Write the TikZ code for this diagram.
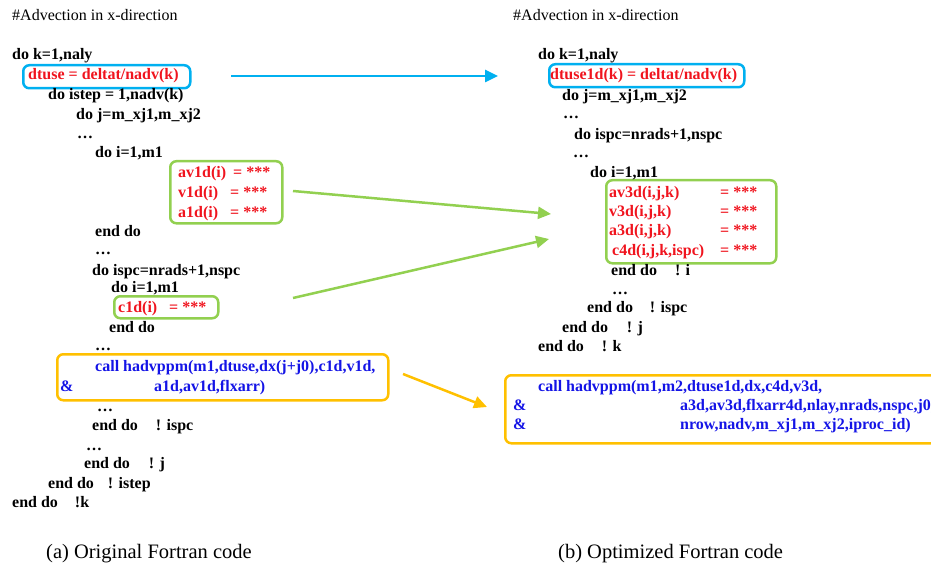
\documentclass[tikz,border=0pt]{standalone}
\usepackage{fontspec}
\setmainfont{Liberation Serif}
\usetikzlibrary{arrows.meta}
\definecolor{codered}{RGB}{240,20,30}
\definecolor{codeblue}{RGB}{20,20,230}
\definecolor{boxblue}{RGB}{0,176,240}
\definecolor{boxgreen}{RGB}{146,208,80}
\definecolor{boxyellow}{RGB}{255,192,0}
\newcommand{\cf}{\bfseries\fontsize{16}{19}\selectfont}
\tikzset{
  code/.style={anchor=base west, inner sep=0pt, font=\cf, text=black},
  redcode/.style={code, text=codered},
  bluecode/.style={code, text=codeblue},
  title/.style={anchor=base west, inner sep=0pt, font=\fontsize{16}{19}\selectfont},
  caption/.style={anchor=base west, inner sep=0pt, font=\fontsize{20.5}{24}\selectfont},
  hlbox/.style={draw, line width=2.5pt, rounded corners=6pt, anchor=north west, inner sep=0pt},
  conn/.style={line width=2.5pt, -{Triangle[length=13pt,width=12pt]}},
}
\begin{document}
\begin{tikzpicture}[x=1pt,y=-1pt]
\useasboundingbox (0,0) rectangle (931,564);
\clip (0,0) rectangle (931,564);
% ---------- boxes ----------
\node[hlbox, draw=boxblue, minimum width=167pt, minimum height=23pt] (lblue) at (22,64) {};
\node[hlbox, draw=boxgreen, minimum width=112pt, minimum height=62pt] (lgreenA) at (169,160) {};
\node[hlbox, draw=boxgreen, minimum width=104pt, minimum height=22pt] (lgreenB) at (113,295) {};
\node[hlbox, draw=boxyellow, minimum width=331pt, minimum height=46pt] (lyellow) at (56,353) {};
\node[hlbox, draw=boxblue, minimum width=195pt, minimum height=23pt] (rblue) at (548,63) {};
\node[hlbox, draw=boxgreen, minimum width=170pt, minimum height=83pt] (rgreen) at (605,179) {};
\node[hlbox, draw=boxyellow, minimum width=460pt, minimum height=68pt] (ryellow) at (504,374) {};
% ---------- left code ----------
\node[title] (lt) at (12,21) {\#Advection in x-direction};
\node[code] (l1) at (12,60) {do k=1,naly};
\node[redcode] (l2) at (28,80) {dtuse = deltat/nadv(k)};
\node[code] (l3) at (48,100) {do istep = 1,nadv(k)};
\node[code] (l4) at (76,120) {do j=m\_xj1,m\_xj2};
\node[code] (l5) at (77,139) {\dots};
\node[code] (l6) at (95,158) {do i=1,m1};
\node[redcode] (l7) at (178,178) {\makebox[55pt][l]{av1d(i)}= ***};
\node[redcode] (l8) at (178,197) {\makebox[52pt][l]{v1d(i)}= ***};
\node[redcode] (l9) at (178,217) {\makebox[52pt][l]{a1d(i)}= ***};
\node[code] (l10) at (95,236) {end do};
\node[code] (l11) at (95,254) {\dots};
\node[code] (l12) at (92,275) {do ispc=nrads+1,nspc};
\node[code] (l13) at (111,292) {do i=1,m1};
\node[redcode] (l14) at (118,312) {\makebox[51pt][l]{c1d(i)}= ***};
\node[code] (l15) at (109,332) {end do};
\node[code] (l16) at (95,350) {\dots};
\node[bluecode] (l17) at (95,371) {call hadvppm(m1,dtuse,dx(j+j0),c1d,v1d,};
\node[bluecode] (l18a) at (60,391) {\&};
\node[bluecode] (l18b) at (154,391) {a1d,av1d,flxarr)};
\node[code] (l19) at (97,411) {\dots};
\node[code] (l20) at (92,430) {end do\hspace{18pt}! ispc};
\node[code] (l21) at (86,450) {\dots};
\node[code] (l22) at (84,468) {end do\hspace{19pt}! j};
\node[code] (l23) at (48,488) {end do\hspace{14pt}! istep};
\node[code] (l24) at (12,507) {end do\hspace{17pt}!k};
\node[caption] (lcap) at (46,558) {(a) Original Fortran code};
% ---------- right code ----------
\node[title] (rt) at (513,21) {\#Advection in x-direction};
\node[code] (r1) at (538,60) {do k=1,naly};
\node[redcode] (r2) at (550,80) {dtuse1d(k) = deltat/nadv(k)};
\node[code] (r3) at (562,101) {do j=m\_xj1,m\_xj2};
\node[code] (r4) at (563,119) {\dots};
\node[code] (r5) at (574,140) {do ispc=nrads+1,nspc};
\node[code] (r6) at (573,158) {\dots};
\node[code] (r7) at (590,178) {do i=1,m1};
\node[redcode] (r8) at (609,197) {\makebox[111pt][l]{av3d(i,j,k)}= ***};
\node[redcode] (r9) at (609,216) {\makebox[111pt][l]{v3d(i,j,k)}= ***};
\node[redcode] (r10) at (609,235) {\makebox[111pt][l]{a3d(i,j,k)}= ***};
\node[redcode] (r11) at (612,255) {\makebox[108pt][l]{c4d(i,j,k,ispc)}= ***};
\node[code] (r12) at (611,275) {end do\hspace{18pt}! i};
\node[code] (r13) at (612,294) {\dots};
\node[code] (r14) at (587,312) {end do\hspace{17pt}! ispc};
\node[code] (r15) at (562,332) {end do\hspace{19pt}! j};
\node[code] (r16) at (538,351) {end do\hspace{18pt}! k};
\node[bluecode] (r17) at (538,391) {call hadvppm(m1,m2,dtuse1d,dx,c4d,v3d,};
\node[bluecode] (r18a) at (513,410) {\&};
\node[bluecode] (r18b) at (680,410) {a3d,av3d,flxarr4d,nlay,nrads,nspc,j0,};
\node[bluecode] (r19a) at (513,429) {\&};
\node[bluecode] (r19b) at (680,429) {nrow,nadv,m\_xj1,m\_xj2,iproc\_id)};
\node[caption] (rcap) at (558,558) {(b) Optimized Fortran code};
% ---------- connectors ----------
\coordinate (bs) at (231,76);
\coordinate (be) at (498,76);
\coordinate (g1s) at (293,191);
\coordinate (g1e) at (551,214);
\coordinate (g2s) at (293,298);
\coordinate (g2e) at (549,239);
\coordinate (ys) at (403,374);
\coordinate (ye) at (487,407);
\draw[conn, draw=boxblue, fill=boxblue] (bs) -- (be);
\draw[conn, draw=boxgreen, fill=boxgreen] (g1s) -- (g1e);
\draw[conn, draw=boxgreen, fill=boxgreen] (g2s) -- (g2e);
\draw[conn, draw=boxyellow, fill=boxyellow] (ys) -- (ye);
\end{tikzpicture}
\end{document}
